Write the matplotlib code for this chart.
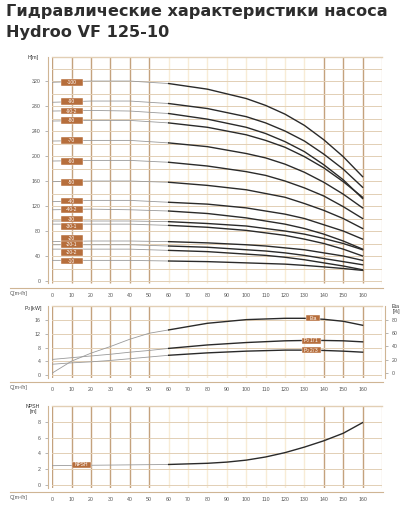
import matplotlib
matplotlib.use('Agg')
import matplotlib.pyplot as plt
from matplotlib.patches import Rectangle
from matplotlib.lines import Line2D

# ---------------- data ----------------
Q = [0, 20, 40, 60, 80, 100, 110, 120, 130, 140, 150, 160]

pump_labels = ['-100', '-90', '-90-2', '-80', '-70', '-60', '-50', '-40', '-40-2',
               '-30', '-30-1', '-20', '-20-1', '-20-2', '-10']
label_y = [318, 287, 272, 257, 225, 191, 158, 128, 114, 99, 87, 68, 58, 46, 32]

H_100 = [318, 320, 320, 316, 307, 292, 281, 267, 249, 226, 199, 167]
H_90 = [286, 288, 288, 284, 276, 263, 253, 240, 224, 203, 179, 150]
H_90_2 = [272, 273, 272, 268, 259, 246, 236, 223, 207, 186, 162, 132]
H_80 = [256, 257, 257, 253, 246, 234, 225, 214, 199, 181, 159, 134]
H_70 = [224, 225, 225, 221, 215, 204, 197, 187, 174, 158, 139, 117]
H_60 = [192, 193, 193, 190, 184, 175, 169, 160, 149, 136, 119, 100]
H_50 = [159, 160, 160, 158, 153, 146, 140, 134, 124, 113, 100, 84]
H_40 = [127, 129, 129, 126, 123, 117, 112, 107, 100, 90, 80, 67]
H_40_2 = [114, 115, 114, 112, 108, 101, 96, 91, 84, 75, 64, 51]
H_30 = [96, 96, 96, 95, 92, 88, 84, 80, 75, 68, 60, 50]
H_30_1 = [91, 91, 91, 89, 86, 81, 77, 73, 67, 60, 51, 40]
H_20 = [63, 64, 64, 63, 61, 58, 56, 53, 50, 45, 40, 33]
H_20_1 = [58, 58, 58, 56, 54, 50, 48, 45, 41, 36, 31, 26]
H_20_2 = [51, 51, 51, 49, 47, 43, 41, 38, 34, 29, 24, 18]
H_10 = [33, 33, 33, 32, 31, 29, 28, 27, 25, 22.6, 20, 17]
head_curves = [H_100, H_90, H_90_2, H_80, H_70, H_60, H_50, H_40, H_40_2,
               H_30, H_30_1, H_20, H_20_1, H_20_2, H_10]

Q_p = [0, 10, 20, 30, 40, 50, 60, 80, 100, 120, 130, 140, 150, 160]
eta = [0, 18, 30, 40, 51, 60, 65, 75, 80.5, 82.5, 82.5, 81, 78, 72]
P2_full = [4.6, 5.1, 5.6, 6.1, 6.7, 7.2, 7.8, 8.8, 9.5, 10.0, 10.1, 10.1, 10.0, 9.7]
P2_23 = [3.2, 3.6, 3.9, 4.3, 4.8, 5.3, 5.8, 6.5, 7.0, 7.3, 7.3, 7.2, 7.0, 6.7]

Q_n = [0, 20, 40, 60, 80, 90, 100, 110, 120, 130, 140, 150, 160]
npsh = [2.45, 2.5, 2.55, 2.6, 2.75, 2.9, 3.15, 3.55, 4.1, 4.8, 5.6, 6.55, 7.9]

x_ticks = list(range(0, 161, 10))
h_ticks = list(range(0, 321, 40))
p_ticks = [0, 4, 8, 12, 16]
eta_ticks = [0, 20, 40, 60, 80]
n_ticks = [0, 2, 4, 6, 8]

# ---------------- style ----------------
W, Hh = 412, 520
fig = plt.figure(figsize=(4.12, 5.2), dpi=100)
fig.patch.set_facecolor('white')
plt.rcParams['font.family'] = ['Liberation Sans', 'DejaVu Sans']

DARK = '#c4a27d'
PALE = '#f8ecd6'
HGRID = '#e2cfb5'
TAN = '#cfb594'
BOX = '#b66e3c'
TXT = '#555555'
FS = 3.8


def fx(px):
    return px / W


def fy(py):
    return 1 - py / Hh


def make_ax(top, bottom):
    return fig.add_axes([fx(52.3), fy(bottom), fx(382) - fx(52.3), fy(top) - fy(bottom)])


def decorate(ax, ylo, yhi, hlines, yticks, bottom_px, ylab, ylab_px):
    ax.set_xlim(0, 170)
    ax.set_ylim(ylo, yhi)
    for q in x_ticks:
        c = PALE if 60 <= q <= 130 else DARK
        ax.plot([q, q], [ylo, yhi], color=c, lw=1.0, zorder=1, solid_capstyle='butt')
    ax.plot([170, 170], [ylo, yhi], color=HGRID, lw=0.9, zorder=1)
    for y in hlines:
        ax.plot([0, 170], [y, y], color=HGRID, lw=0.7, zorder=1.5)
    ax.plot([0, 170], [yhi, yhi], color=HGRID, lw=1.0, zorder=1.5, clip_on=False)
    for s in ['top', 'right', 'bottom']:
        ax.spines[s].set_visible(False)
    ax.spines['left'].set_position(('outward', 3.2))
    ax.spines['left'].set_color(TAN)
    ax.spines['left'].set_linewidth(0.8)
    ax.set_yticks(yticks)
    ax.tick_params(axis='y', length=2, width=0.5, color='#999999', labelsize=FS,
                   labelcolor=TXT, pad=3)
    ax.set_xticks(x_ticks)
    ax.set_xticklabels([str(v) for v in x_ticks])
    ax.tick_params(axis='x', length=0, labelsize=FS, labelcolor=TXT, pad=6.5)
    ax.set_facecolor('white')
    fig.add_artist(Line2D([fx(10), fx(383)], [fy(bottom_px + 4), fy(bottom_px + 4)],
                          color=TAN, lw=0.8, transform=fig.transFigure))
    fig.text(fx(10), fy(bottom_px + 10), 'Q[m³/h]', fontsize=FS, color=TXT,
             ha='left', va='center')
    fig.text(fx(33), fy(ylab_px), ylab, fontsize=FS, color='#333333', ha='center',
             va='top', linespacing=1.0)


def curve(ax, xs, ys, split=60):
    xg = [x for x in xs if x <= split]
    yg = ys[:len(xg)]
    xb = [x for x in xs if x >= split]
    yb = ys[len(xs) - len(xb):]
    ax.plot(xg, yg, color='#9a9a9a', lw=0.6, zorder=3)
    ax.plot(xb, yb, color='#2a2a2a', lw=1.0, zorder=3)


def box(ax, xc, yc, w, h, text):
    ax.add_patch(Rectangle((xc - w / 2, yc - h / 2), w, h, facecolor=BOX,
                           edgecolor='white', lw=0.3, zorder=5))
    ax.text(xc, yc, text, color='white', fontsize=3.5, ha='center', va='center',
            zorder=6)


# ---------------- title ----------------
TFONT = ['DejaVu Sans']
fig.text(fx(6), fy(11.5), 'Гидравлические характеристики насоса', fontsize=11.6,
         fontweight='bold', color='#2d2d2d', ha='left', va='center', family=TFONT)
fig.text(fx(6), fy(32.5), 'Hydroo VF 125-10', fontsize=11.6,
         fontweight='bold', color='#2d2d2d', ha='left', va='center', family=TFONT)

# ---------------- panel 1: head ----------------
ax1 = make_ax(57.3, 283.5)
decorate(ax1, -4, 358, list(range(0, 341, 20)), h_ticks, 283.5, 'H[m]', 55)
for ys in head_curves:
    curve(ax1, Q, ys)
for lab, ly in zip(pump_labels, label_y):
    box(ax1, 10, ly, 11.3, 10.5, lab)

# ---------------- panel 2: power / efficiency ----------------
ax2 = make_ax(305.7, 378)
decorate(ax2, -0.8, 20.2, p_ticks, p_ticks, 378, 'P$_2$[kW]', 304)
axr = ax2.twinx()
axr.set_ylim(-7.5, 101.5)
for s in ['top', 'left', 'bottom']:
    axr.spines[s].set_visible(False)
axr.spines['right'].set_position(('outward', 2.3))
axr.spines['right'].set_color(TAN)
axr.spines['right'].set_linewidth(0.8)
axr.set_yticks(eta_ticks)
axr.tick_params(axis='y', length=2, width=0.5, color='#999999', labelsize=FS,
                labelcolor=TXT, pad=3)
fig.text(fx(396), fy(304), 'Eta\n[%]', fontsize=FS, color='#333333', ha='center',
         va='top', linespacing=1.0)
curve(ax2, Q_p, P2_full)
curve(ax2, Q_p, P2_23)
curve(axr, Q_p, eta)
box(axr, 134.5, 82.5, 7.4, 9.0, 'Eta')
box(ax2, 133.5, 10.0, 9.8, 1.75, 'P$_2$ 1/1')
box(ax2, 133.5, 7.25, 9.8, 1.75, 'P$_2$ 2/3')

# ---------------- panel 3: NPSH ----------------
ax3 = make_ax(405.7, 487.7)
decorate(ax3, -0.34, 10.04, n_ticks, n_ticks, 487.7, 'NPSH\n[m]', 404)
curve(ax3, Q_n, npsh)
box(ax3, 15, 2.55, 9.8, 0.76, 'NPSH')

fig.savefig('out.png', dpi=100, facecolor='white')
